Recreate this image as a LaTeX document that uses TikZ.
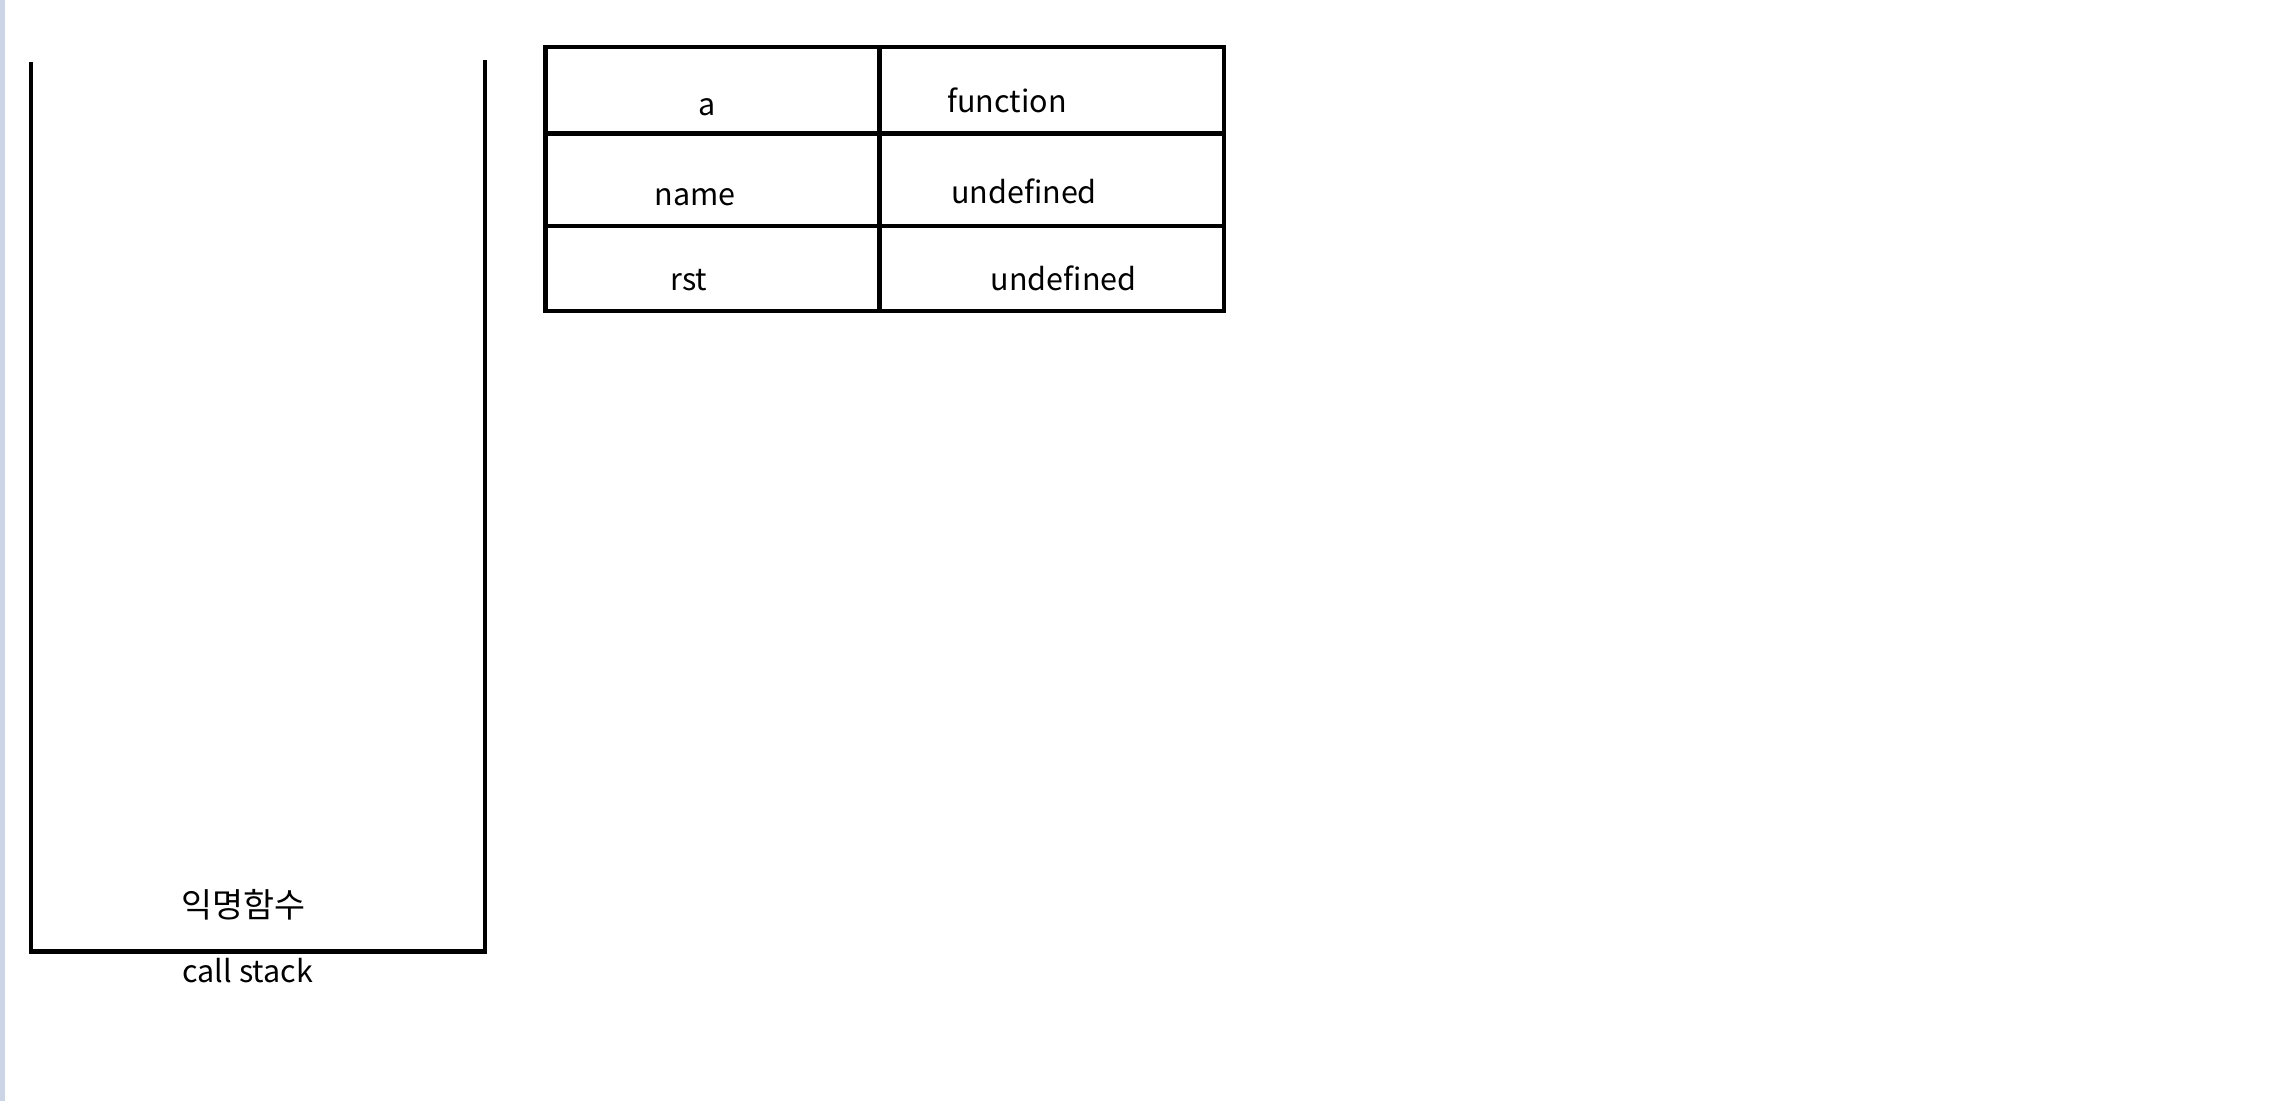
\documentclass[tikz,border=0pt]{standalone}
\usepackage{fontspec}
\setmainfont{Noto Sans CJK KR}
\begin{document}
\begin{tikzpicture}[x=1pt,y=-1pt,
  wall/.style={line width=3pt,line cap=butt,line join=miter},
  cell/.style={line width=3pt},
  lbl/.style={font=\fontsize{20.8}{24}\selectfont,inner sep=0pt,anchor=base},
  klbl/.style={font=\fontsize{23}{26}\selectfont,inner sep=0pt,anchor=base}]
\useasboundingbox (0,0) rectangle (1560,751);
\fill[fill={rgb,255:red,203;green,213;blue,230}] (0,0) rectangle (3.5,751);
% call stack
\coordinate (tl) at (21,42);
\coordinate (bl) at (21,649);
\coordinate (br) at (331,649);
\coordinate (tr) at (331,41);
\draw[wall] (tl) -- (bl) -- (br) -- (tr);
\node[klbl] (fn) at (166,626) {익명함수};
\node[lbl] (cs) at (169,670) {call stack};
% table
\coordinate (t1) at (372,32);
\coordinate (t2) at (835,212);
\coordinate (c1) at (600,32);
\coordinate (c2) at (600,212);
\coordinate (r1a) at (372,91);
\coordinate (r1b) at (835,91);
\coordinate (r2a) at (372,154);
\coordinate (r2b) at (835,154);
\draw[cell] (t1) rectangle (t2);
\draw[cell] (c1) -- (c2);
\draw[cell] (r1a) -- (r1b);
\draw[cell] (r2a) -- (r2b);
\node[lbl] (k1) at (482,79) {a};
\node[lbl] (v1) at (687,77) {function};
\node[lbl] (k2) at (474,140) {name};
\node[lbl] (v2) at (698.5,139) {undefined};
\node[lbl] (k3) at (470,198) {rst};
\node[lbl] (v3) at (725.5,198) {undefined};
\end{tikzpicture}
\end{document}
